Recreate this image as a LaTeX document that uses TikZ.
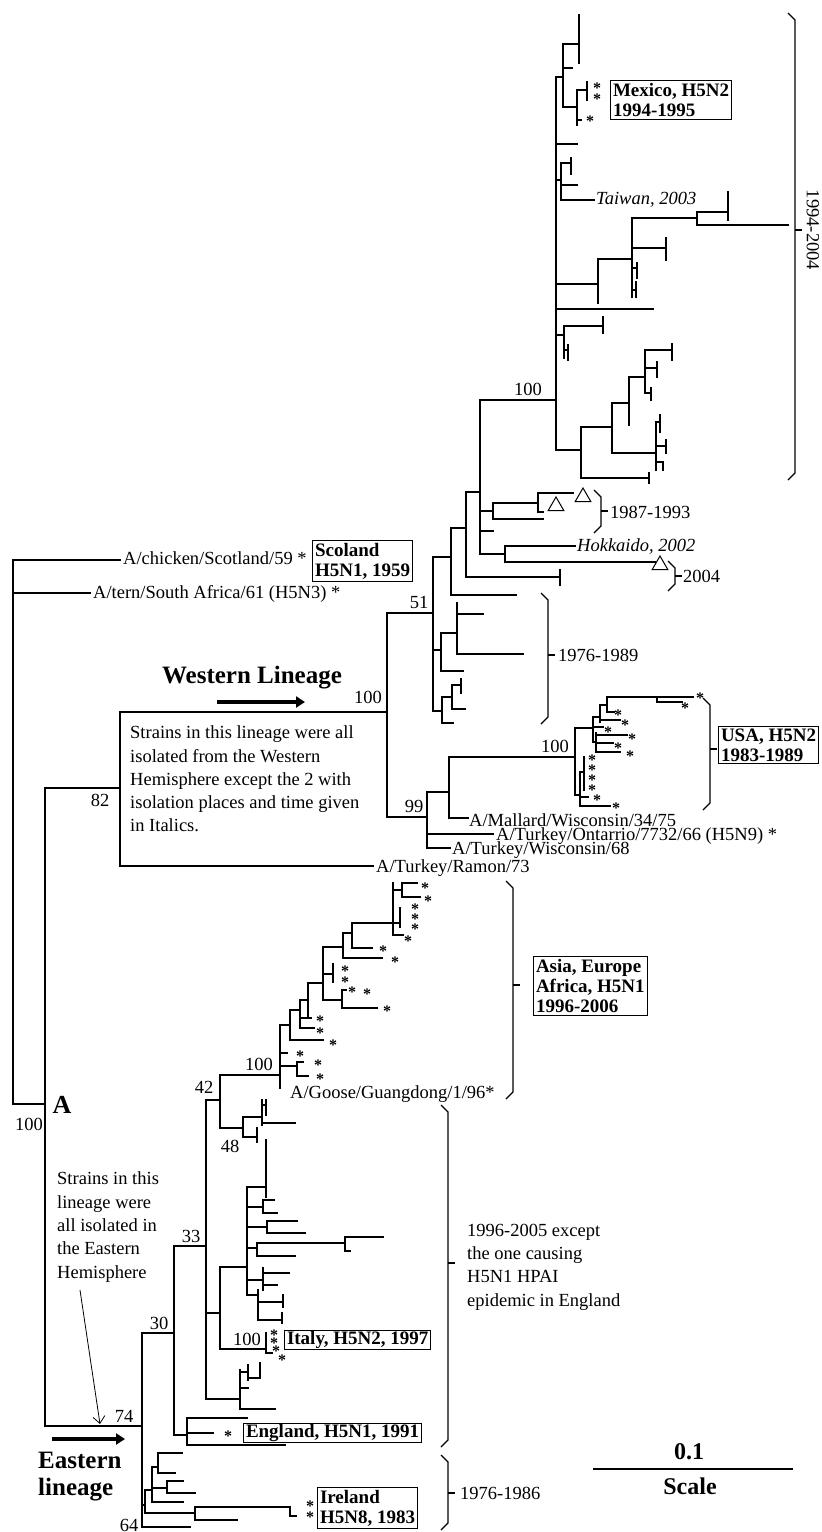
\documentclass[tikz,border=0pt]{standalone}
\usepackage{fontspec}
\setmainfont{Liberation Serif}
\usetikzlibrary{arrows.meta}
\usetikzlibrary{shapes.geometric}

% year brace: x, top, bottom, middle
\newcommand{\yrbrace}[4]{%
  \draw[brc] (#1-7,#2-2) -- (#1,#2+5) -- (#1,#3-5) -- (#1-7,#3+2);
  \draw[brc] (#1,#4) -- (#1+7,#4);}

\begin{document}
\begin{tikzpicture}[x=1pt, y=-1pt,
    br/.style={line width=1.4pt, line cap=rect},
    brc/.style={line width=1.1pt},
    lbl/.style={font=\fontsize{18.5}{23}\selectfont, inner sep=0pt, anchor=west},
    ita/.style={lbl, font=\fontsize{18.5}{23}\selectfont\itshape},
    boot/.style={font=\fontsize{18.5}{23}\selectfont, inner sep=0pt},
    ast/.style={font=\fontsize{16}{16}\selectfont\bfseries, inner sep=0pt, yshift=-3pt},
    tagbox/.style={draw, line width=1pt, inner sep=2.5pt, anchor=west,
      align=left, font=\fontsize{19}{20}\selectfont\bfseries},
    note/.style={font=\fontsize{18.5}{23.3}\selectfont, inner sep=0pt,
      anchor=west, align=left},
    big/.style={font=\fontsize{25}{27}\selectfont\bfseries, inner sep=0pt},
    fat/.style={line width=3.5pt, -{Triangle[length=9pt,width=11pt]}},
    thin/.style={line width=0.8pt, -{Straight Barb[length=7pt,width=12pt]}},
    tri/.style={draw, line width=1pt, regular polygon, regular polygon sides=3,
      minimum size=18pt, inner sep=0pt},
  ]
  \useasboundingbox[fill=white] (0,0) rectangle (822,1532);

  % root and the two old strains
  \draw[br] (13,560) -- (13,1104);
  \draw[br] (13,560) -- (120,560);
  \node[lbl] (scot) at (123,558) {A/chicken/Scotland/59 *};
  \node[tagbox] (scotbox) at (312,561) {Scoland\\H5N1, 1959};
  \draw[br] (13,593) -- (90,593);
  \node[lbl] (tern) at (93,594) {A/tern/South Africa/61 (H5N3) *};
  \draw[br] (13,1104) -- (45,1104);
  \node[big, font=\fontsize{26}{26}\selectfont\bfseries] (nodeA) at (62,1105) {A};
  \node[boot] (bA) at (29,1124) {100};
  \draw[br] (45,788) -- (45,1426);

  % Western lineage
  \draw[br] (45,788) -- (120,788);
  \node[boot] (b82) at (100,800) {82};
  \draw[br] (120,712) -- (120,866);
  \draw[br] (120,712) -- (387,712);
  \node[boot] (b100w) at (368,697) {100};
  \draw[br] (120,866) -- (373,866);
  \node[lbl] (ramon) at (376,868) {A/Turkey/Ramon/73};
  \node[big] (westtxt) at (252,678) {Western Lineage};
  \coordinate (wa) at (217,702);
  \coordinate (wb) at (305,702);
  \draw[fat] (wa) -- (wb);
  \node[note] (westnote) at (130,779) {Strains in this lineage were all\\isolated from the Western\\Hemisphere except the 2 with\\isolation places and time given\\in Italics.};

  \draw[br] (387,613) -- (387,817);
  \draw[br] (387,613) -- (433,613);
  \node[boot] (b51) at (419,602) {51};
  \draw[br] (387,817) -- (427,817);
  \node[boot] (b99) at (414,806) {99};
  \draw[br] (427,792) -- (427,848);
  \draw[br] (427,792) -- (449,792);
  \draw[br] (427,834) -- (493,834);
  \node[lbl] (ontario) at (496,836) {A/Turkey/Ontarrio/7732/66 (H5N9) *};
  \draw[br] (427,848) -- (450,848);
  \node[lbl] (wisc) at (452,850) {A/Turkey/Wisconsin/68};
  \draw[br] (449,757) -- (449,818);
  \draw[br] (449,818) -- (468,818);
  \node[lbl] (mallard) at (469,820) {A/Mallard/Wisconsin/34/75};
  \draw[br] (449,757) -- (575,757);
  \node[boot] (b100u) at (555,746) {100};

  % USA, H5N2 clade
  \draw[br] (575,728) -- (575,795);
  \draw[br] (575,728) -- (593,728);
  \draw[br] (593,717) -- (593,742);
  \draw[br] (593,717) -- (600,717) (600,705) -- (600,722) (600,705) -- (607,705);
  \draw[br] (607,697) -- (607,712) (607,697) -- (657,697) (657,697) -- (657,702);
  \draw[br] (657,697) -- (693,697) (657,702) -- (682,702);
  \draw[br] (607,712) -- (614,712) (600,720) -- (620,720) (593,727) -- (603,727);
  \draw[br] (593,742) -- (596,742) (596,733) -- (596,752);
  \draw[br] (596,735) -- (627,735) (596,743) -- (613,743) (596,752) -- (620,752);
  \draw[br] (575,795) -- (580,795) (580,772) -- (580,806) (580,772) -- (584,772);
  \draw[br] (584,757) -- (584,790) (580,797) -- (588,797) (580,806) -- (610,806);
  \foreach \p [count=\i] in {(700,695),(685,705),(618,712),(625,722),(608,729),
    (632,736),(618,745),(630,753),(592,757),(592,767),(592,777),(592,787),
    (597,797),(616,805)}
    \node[ast] (us\i) at \p {*};
  \yrbrace{710}{700}{808}{749}
  \node[tagbox] (usabox) at (718,745) {USA, H5N2\\1983-1989};

  % 1976-1989 clade
  \draw[br] (433,557) -- (433,711);
  \draw[br] (433,557) -- (451,557);
  \draw[br] (433,650) -- (441,650) (441,633) -- (441,671) (441,671) -- (463,671);
  \draw[br] (441,633) -- (457,633) (457,603) -- (457,654);
  \draw[br] (457,614) -- (483,614) (457,654) -- (523,654);
  \draw[br] (433,711) -- (442,711) (442,697) -- (442,723) (442,723) -- (453,723);
  \draw[br] (442,697) -- (452,697) (452,685) -- (452,709) (452,709) -- (465,709);
  \draw[br] (452,685) -- (461,685) (461,679) -- (461,693);
  \yrbrace{548}{595}{722}{655}
  \node[lbl] (y7689) at (558,655) {1976-1989};

  \draw[br] (451,528) -- (451,595);
  \draw[br] (451,528) -- (466,528);
  \draw[br] (451,595) -- (516,595);
  \draw[br] (466,492) -- (466,577);
  \draw[br] (466,492) -- (480,492);
  \draw[br] (466,577) -- (560,577) (560,570) -- (560,585);

  % 1987-1993 and 2004 groups
  \draw[br] (480,400) -- (480,554);
  \draw[br] (480,511) -- (493,511) (493,503) -- (493,519);
  \draw[br] (493,503) -- (538,503) (493,519) -- (543,519) (480,531) -- (493,531);
  \draw[br] (538,493) -- (538,512) (538,512) -- (543,512) (538,493) -- (573,493);
  \node[tri] (tr1) at (583,497) {};
  \node[tri] (tr2) at (556,506) {};
  \yrbrace{601}{492}{531}{511}
  \node[lbl] (y8793) at (610,512) {1987-1993};
  \draw[br] (480,554) -- (505,554) (505,546) -- (505,562);
  \draw[br] (505,546) -- (575,546) (505,562) -- (655,562);
  \node[ita] (hokk) at (577,546) {Hokkaido, 2002};
  \node[tri] (tr3) at (660,565) {};
  \yrbrace{675}{563}{589}{576}
  \node[lbl] (y04) at (683,576) {2004};

  % 1994-2004 clade
  \draw[br] (480,400) -- (556,400);
  \node[boot] (b100m) at (528,389) {100};
  \draw[br] (556,77) -- (556,450);
  \draw[br] (556,77) -- (563,77) (563,44) -- (563,107);
  \draw[br] (563,44) -- (579,44) (579,15) -- (579,63) (563,68) -- (572,68);
  \draw[br] (563,107) -- (577,107) (577,90) -- (577,125);
  \draw[br] (577,90) -- (587,90) (587,82) -- (587,100) (577,120) -- (581,120);
  \foreach \p [count=\i] in {(597,85),(597,96),(590,118)}
    \node[ast] (mx\i) at \p {*};
  \node[tagbox] (mexbox) at (610,100) {Mexico, H5N2\\1994-1995};
  \draw[br] (556,144) -- (577,144);
  \draw[br] (556,180) -- (561,180) (561,163) -- (561,200);
  \draw[br] (561,163) -- (571,163) (571,158) -- (571,174) (561,185) -- (577,185);
  \draw[br] (561,200) -- (594,200);
  \node[ita] (taiwan) at (596,200) {Taiwan, 2003};
  \draw[br] (556,284) -- (598,284) (598,259) -- (598,303) (598,259) -- (632,259);
  \draw[br] (632,218) -- (632,297) (632,218) -- (697,218);
  \draw[br] (697,212) -- (697,225) (697,212) -- (728,212) (728,192) -- (728,220);
  \draw[br] (697,225) -- (788,225);
  \draw[br] (632,248) -- (666,248) (666,238) -- (666,260);
  \draw[br] (632,268) -- (637,268) (637,263) -- (637,278);
  \draw[br] (632,290) -- (636,290) (636,282) -- (636,297);
  \draw[br] (556,309) -- (653,309);
  \draw[br] (556,335) -- (564,335) (564,326) -- (564,358);
  \draw[br] (564,326) -- (603,326) (603,317) -- (603,333);
  \draw[br] (564,350) -- (568,350) (568,345) -- (568,360);
  \draw[br] (556,450) -- (581,450) (581,427) -- (581,478);
  \draw[br] (581,478) -- (649,478) (649,473) -- (649,483);
  \draw[br] (581,427) -- (612,427) (612,403) -- (612,453);
  \draw[br] (612,453) -- (656,453) (656,422) -- (656,470);
  \draw[br] (656,422) -- (660,422) (660,415) -- (660,432);
  \draw[br] (656,446) -- (666,446) (666,440) -- (666,453);
  \draw[br] (656,462) -- (663,462) (663,462) -- (663,470);
  \draw[br] (612,403) -- (629,403) (629,377) -- (629,425);
  \draw[br] (629,377) -- (645,377) (645,350) -- (645,393);
  \draw[br] (645,350) -- (672,350) (672,344) -- (672,360);
  \draw[br] (645,368) -- (657,368) (657,362) -- (657,377);
  \draw[br] (645,393) -- (651,393) (651,388) -- (651,400);
  \yrbrace{795}{15}{478}{230}
  \node[lbl, anchor=center, rotate=-90] (y9404) at (813,230) {1994-2004};

  % Eastern lineage
  \draw[br] (45,1426) -- (142,1426);
  \node[boot] (b74) at (124,1416) {74};
  \node[note] (eastnote) at (57,1227) {Strains in this\\lineage were\\all isolated in\\the Eastern\\Hemisphere};
  \coordinate (ea) at (80,1290);
  \coordinate (eb) at (100,1424);
  \draw[thin] (ea) -- (eb);
  \coordinate (ec) at (52,1439);
  \coordinate (ed) at (125,1439);
  \draw[fat] (ec) -- (ed);
  \node[big, anchor=west, align=left] (easttxt) at (38,1477) {Eastern\\lineage};

  \draw[br] (142,1333) -- (142,1527);
  \draw[br] (142,1333) -- (174,1333);
  \node[boot] (b30) at (159,1323) {30};
  \draw[br] (142,1527) -- (190,1527);
  \node[boot] (b64) at (129,1525) {64};

  % Ireland group
  \draw[br] (142,1505) -- (145,1505) (145,1490) -- (145,1513);
  \draw[br] (145,1490) -- (152,1490) (152,1467) -- (152,1502);
  \draw[br] (152,1467) -- (158,1467) (158,1453) -- (158,1473);
  \draw[br] (158,1453) -- (182,1453) (158,1473) -- (175,1473);
  \draw[br] (152,1488) -- (167,1488) (167,1481) -- (167,1493);
  \draw[br] (167,1481) -- (183,1481) (167,1493) -- (195,1493);
  \draw[br] (152,1502) -- (183,1502);
  \draw[br] (145,1513) -- (195,1513) (195,1507) -- (195,1520);
  \draw[br] (195,1507) -- (290,1507) (290,1507) -- (290,1516) (290,1516) -- (296,1516);
  \draw[br] (195,1520) -- (237,1520);
  \foreach \p [count=\i] in {(310,1503),(310,1514)}
    \node[ast] (ir\i) at \p {*};
  \node[tagbox] (irebox) at (317,1508) {Ireland\\H5N8, 1983};
  \yrbrace{448}{1457}{1528}{1493}
  \node[lbl] (y7686) at (460,1493) {1976-1986};

  % England and the 33 node
  \draw[br] (174,1246) -- (174,1435);
  \draw[br] (174,1246) -- (206,1246);
  \node[boot] (b33) at (191,1236) {33};
  \draw[br] (174,1435) -- (187,1435) (187,1418) -- (187,1445);
  \draw[br] (187,1418) -- (247,1418) (187,1433) -- (213,1433) (187,1445) -- (285,1445);
  \node[ast] (en1) at (228,1433) {*};
  \node[tagbox, inner ysep=1pt] (engbox) at (243,1433) {England, H5N1, 1991};

  \draw[br] (206,1100) -- (206,1399);
  \draw[br] (206,1100) -- (220,1100);
  \node[boot] (b42) at (204,1087) {42};
  \draw[br] (220,1075) -- (220,1128);
  \draw[br] (220,1075) -- (280,1075);
  \node[boot] (b100a) at (259,1064) {100};
  \draw[br] (220,1128) -- (243,1128);
  \node[boot] (b48) at (230,1146) {48};
  \draw[br] (243,1117) -- (243,1137) (243,1117) -- (262,1117) (262,1100) -- (262,1125);
  \draw[br] (262,1123) -- (295,1123) (262,1105) -- (266,1105) (266,1100) -- (266,1115);
  \draw[br] (243,1137) -- (257,1137) (257,1128) -- (257,1142);

  % Asia, Europe, Africa clade
  \draw[br] (280,1025) -- (280,1088);
  \draw[br] (280,1025) -- (290,1025) (290,1010) -- (290,1040) (290,1040) -- (323,1040);
  \draw[br] (290,1010) -- (300,1010) (300,1000) -- (300,1028);
  \draw[br] (300,1028) -- (314,1028) (300,1018) -- (311,1018);
  \draw[br] (300,1000) -- (308,1000) (308,983) -- (308,1017);
  \draw[br] (308,983) -- (323,983) (323,947) -- (323,1000);
  \draw[br] (323,1000) -- (342,1000) (342,990) -- (342,1008);
  \draw[br] (342,990) -- (346,990) (342,1008) -- (377,1008);
  \draw[br] (323,974) -- (333,974) (333,964) -- (333,982);
  \draw[br] (323,947) -- (343,947) (343,933) -- (343,958);
  \draw[br] (343,958) -- (382,958) (343,933) -- (352,933);
  \draw[br] (352,923) -- (352,948) (352,948) -- (372,948);
  \draw[br] (352,923) -- (400,923) (393,883) -- (393,935);
  \draw[br] (393,890) -- (402,890) (402,883) -- (402,897);
  \draw[br] (402,883) -- (417,883) (402,897) -- (420,897);
  \draw[br] (400,908) -- (400,927) (393,935) -- (403,935);
  \draw[br] (280,1053) -- (287,1053);
  \draw[br] (280,1066) -- (297,1066) (297,1062) -- (297,1076);
  \draw[br] (297,1062) -- (303,1062) (297,1076) -- (308,1076);
  \foreach \p [count=\i] in {(425,885),(428,898),(415,906),(415,916),(415,926),
    (408,938),(383,948),(395,959),(345,968),(345,979),(352,989),(367,991),
    (387,1008),(320,1018),(320,1030),(333,1042),(300,1053),(318,1062),(320,1076)}
    \node[ast] (as\i) at \p {*};
  \node[lbl] (goose) at (290,1094) {A/Goose/Guangdong/1/96*};
  \yrbrace{513}{883}{1097}{985}
  \node[tagbox] (asiabox) at (533,986) {Asia, Europe\\Africa, H5N1\\1996-2006};

  % 1996-2005 clade
  \draw[br] (206,1313) -- (220,1313) (220,1267) -- (220,1349);
  \draw[br] (220,1349) -- (266,1349) (266,1333) -- (266,1353) (266,1353) -- (272,1353);
  \node[boot] (b100i) at (247,1339) {100};
  \foreach \p [count=\i] in {(274,1332),(274,1340),(276,1348),(282,1357)}
    \node[ast] (it\i) at \p {*};
  \node[tagbox, inner ysep=1pt] (itbox) at (284,1340) {Italy, H5N2, 1997};
  \draw[br] (220,1267) -- (247,1267) (247,1187) -- (247,1295);
  \draw[br] (247,1187) -- (266,1187) (266,1140) -- (266,1197);
  \draw[br] (247,1207) -- (263,1207) (263,1200) -- (263,1213);
  \draw[br] (263,1200) -- (274,1200) (263,1213) -- (277,1213);
  \draw[br] (247,1227) -- (267,1227) (267,1221) -- (267,1233);
  \draw[br] (267,1221) -- (297,1221) (267,1233) -- (305,1233);
  \draw[br] (247,1248) -- (257,1248) (257,1243) -- (257,1256);
  \draw[br] (257,1243) -- (345,1243) (345,1237) -- (345,1251);
  \draw[br] (345,1237) -- (383,1237) (345,1251) -- (350,1251) (257,1256) -- (295,1256);
  \draw[br] (247,1280) -- (263,1280) (263,1268) -- (263,1290);
  \draw[br] (263,1273) -- (289,1273) (263,1285) -- (277,1285);
  \draw[br] (247,1295) -- (258,1295) (258,1290) -- (258,1320);
  \draw[br] (258,1302) -- (283,1302) (283,1295) -- (283,1307);
  \draw[br] (258,1320) -- (282,1320) (282,1313) -- (282,1323);
  \draw[br] (206,1399) -- (240,1399) (240,1370) -- (240,1409);
  \draw[br] (240,1372) -- (248,1372) (248,1365) -- (248,1380);
  \draw[br] (248,1378) -- (260,1378) (260,1363) -- (260,1378);
  \draw[br] (240,1388) -- (248,1388) (240,1409) -- (275,1409);
  \yrbrace{448}{1107}{1445}{1263}
  \node[note] (eng96) at (467,1267) {1996-2005 except\\the one causing\\H5N1 HPAI\\epidemic in England};

  % scale
  \node[big, font=\fontsize{24}{24}\selectfont\bfseries] (sc1) at (689,1452) {0.1};
  \coordinate (sa) at (593,1469);
  \coordinate (sb) at (793,1469);
  \draw[line width=1.2pt] (sa) -- (sb);
  \node[big, font=\fontsize{24}{24}\selectfont\bfseries] (sc2) at (690,1486) {Scale};

\end{tikzpicture}
\end{document}
